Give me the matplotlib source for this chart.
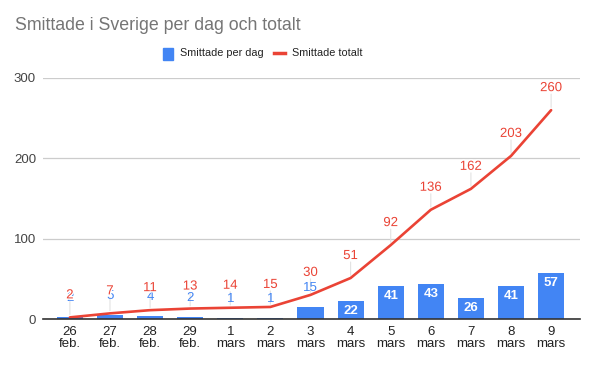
import matplotlib
matplotlib.use("Agg")
import matplotlib.pyplot as plt
import matplotlib.patheffects as pe
import numpy as np

plt.rcParams['font.family'] = ['Liberation Sans', 'DejaVu Sans']

categories = ["26\nfeb.", "27\nfeb.", "28\nfeb.", "29\nfeb.", "1\nmars", "2\nmars", "3\nmars",
              "4\nmars", "5\nmars", "6\nmars", "7\nmars", "8\nmars", "9\nmars"]
per_day = [2, 5, 4, 2, 1, 1, 15, 22, 41, 43, 26, 41, 57]
total = [2, 7, 11, 13, 14, 15, 30, 51, 92, 136, 162, 203, 260]
yticks = [0, 100, 200, 300]

BLUE = "#4285F4"
RED = "#EA4335"

W, H = 598, 366
fig = plt.figure(figsize=(W / 100, H / 100), dpi=100)
ax = fig.add_axes([43 / W, (H - 319) / H, (580 - 43) / W, (319 - 78) / H])

x = np.arange(len(categories))
ax.bar(x, per_day, width=0.65, color=BLUE, zorder=2)
ax.plot(x, total, color=RED, lw=1.9, zorder=3, solid_capstyle='round')

ax.set_xlim(-0.67, len(categories) - 1 + 0.72)
ax.set_ylim(0, 300)
ax.set_yticks(yticks)
ax.set_yticklabels([str(v) for v in yticks])
ax.set_xticks(x)
ax.set_xticklabels(categories, linespacing=1.05)
ax.tick_params(axis='both', length=0, labelsize=9.5, colors="#444444")
ax.tick_params(axis='x', pad=5, colors="#222222")
ax.tick_params(axis='y', pad=5)
for s in ["top", "right", "left"]:
    ax.spines[s].set_visible(False)
ax.spines["bottom"].set_color("#333333")
ax.spines["bottom"].set_linewidth(1.2)
ax.spines["bottom"].set_zorder(4)
ax.grid(axis='y', color="#cccccc", lw=0.9, zorder=0)
ax.set_axisbelow(True)

# leader lines (drawn beneath everything else)
for xi, v in zip(x, total):
    ax.annotate("", (xi, v), xytext=(0, 16), textcoords='offset pixels',
                arrowprops=dict(arrowstyle='-', color='#e2e2e2', lw=0.8,
                                shrinkA=0, shrinkB=2), zorder=1)

# labels for per-day bars
for xi, v in zip(x, per_day):
    if v >= 20:
        ax.annotate(str(v), (xi, v), xytext=(0, -10), textcoords='offset pixels',
                    ha='center', va='center', color='white', fontsize=9.5,
                    fontweight='bold', zorder=5)
    else:
        ax.annotate(str(v), (xi, v), xytext=(0, 19), textcoords='offset pixels',
                    ha='center', va='center', color=BLUE, fontsize=9.5, zorder=5)

# labels for totals (white halo, drawn on top)
for xi, v in zip(x, total):
    ax.annotate(str(v), (xi, v), xytext=(0, 22), textcoords='offset pixels',
                ha='center', va='center', color=RED, fontsize=9.5, zorder=6,
                path_effects=[pe.withStroke(linewidth=2, foreground='white')])

fig.text(15 / W, 1 - 25 / H, "Smittade i Sverige per dag och totalt", fontsize=12.8,
         color="#757575", ha='left', va='center')

# legend
fig.patches.append(plt.Rectangle((163 / W, 1 - 60 / H), 10 / W, 12 / H,
                                 transform=fig.transFigure, color=BLUE, figure=fig))
fig.text(180 / W, 1 - 53 / H, "Smittade per dag", fontsize=7.8, color="#222222",
         ha='left', va='center')
fig.lines.append(plt.Line2D([274 / W, 285 / W], [1 - 53 / H, 1 - 53 / H],
                            transform=fig.transFigure, color=RED, lw=2.5, figure=fig))
fig.text(292 / W, 1 - 53 / H, "Smittade totalt", fontsize=7.8, color="#222222",
         ha='left', va='center')

fig.savefig("out.png", dpi=100, facecolor="white")
